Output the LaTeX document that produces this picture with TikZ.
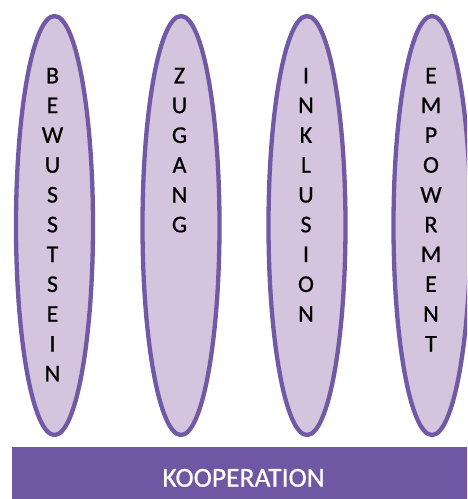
\documentclass[tikz,border=0pt]{standalone}
\usepackage{fontspec}
\setmainfont{Carlito}
\newfontfamily\pillarfont{Carlito}[FakeBold=0.6]
\usetikzlibrary{shapes.geometric}
\definecolor{pillarfill}{RGB}{213,196,221}
\definecolor{pillarline}{RGB}{114,89,166}
\definecolor{basefill}{RGB}{112,87,163}
\tikzset{
  pillar/.style={ellipse, draw=pillarline, fill=pillarfill, line width=4.3pt,
    minimum width=77pt, minimum height=419pt, inner sep=0pt},
  letter/.style={anchor=base, inner sep=0pt, font=\pillarfont\fontsize{24}{28}\selectfont},
  basebar/.style={rectangle, fill=basefill, draw=none, inner sep=0pt, anchor=north west,
    minimum width=463pt, minimum height=52pt},
  basetext/.style={anchor=base, inner sep=0pt, text=white, font=\pillarfont\fontsize{27.5}{32}\selectfont}
}
\begin{document}
\begin{tikzpicture}[x=1pt, y=-1pt]
  \useasboundingbox (0,0) rectangle (467,499);
  \clip (0,0) rectangle (467,499);
  % the four pillars
  \node[pillar] (p1) at (54.5,225.5) {};
  \node[pillar] (p2) at (181,225.5) {};
  \node[pillar] (p3) at (307,225.5) {};
  \node[pillar] (p4) at (432,225.5) {};
  % vertical lettering
  \foreach \l [count=\k] in {B,E,W,U,S,S,T,S,E,I,N}
    \node[letter] (a\k) at (52.5,{83.3+29.8*(\k-1)}) {\l};
  \foreach \l [count=\k] in {Z,U,G,A,N,G}
    \node[letter] (b\k) at (179.5,{83.3+29.8*(\k-1)}) {\l};
  \foreach \l [count=\k] in {I,N,K,L,U,S,I,O,N}
    \node[letter] (c\k) at (306,{83.3+29.8*(\k-1)}) {\l};
  \foreach \l [count=\k] in {E,M,P,O,W,R,M,E,N,T}
    \node[letter] (d\k) at (431,{83.3+29.8*(\k-1)}) {\l};
  % foundation bar
  \node[basebar] (bar) at (12,447) {};
  \node[basetext] (koop) at (243.5,486.7) {KOOPERATION};
\end{tikzpicture}
\end{document}
